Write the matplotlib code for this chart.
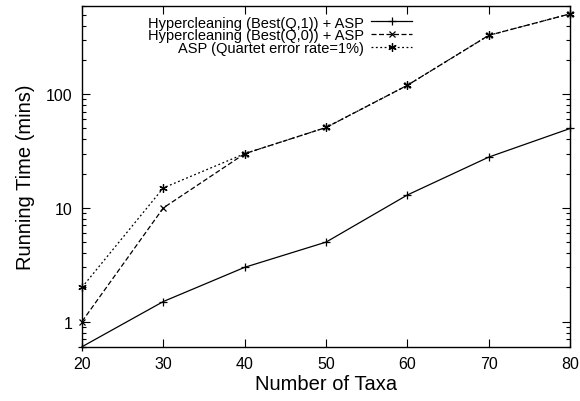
import matplotlib
matplotlib.use('Agg')
import matplotlib.pyplot as plt
from matplotlib.ticker import LogLocator, NullFormatter, FixedLocator

plt.rcParams['font.family'] = ['Liberation Sans', 'DejaVu Sans']

taxa = [20, 30, 40, 50, 60, 70, 80]
hc_q1 = [0.6, 1.5, 3, 5, 13, 28, 50]
hc_q0 = [1, 10, 30, 51, 120, 330, 510]
asp = [2, 15, 30, 51, 120, 330, 510]

labels = ['Hypercleaning (Best(Q,1)) + ASP',
          'Hypercleaning (Best(Q,0)) + ASP',
          'ASP (Quartet error rate=1%)']

fig = plt.figure(figsize=(5.8, 4.02), dpi=100)
ax = fig.add_axes([0.1414, 0.135, 0.8416, 0.848])

ax.plot(taxa, hc_q1, color='black', lw=0.9, ls='-', marker='+', ms=6, mew=0.9, label=labels[0], clip_on=False)
ax.plot(taxa, hc_q0, color='black', lw=0.9, ls=(0, (4, 2)), marker='x', ms=5, mew=0.9, label=labels[1], clip_on=False)
ax.plot(taxa, asp, color='black', lw=0.9, ls=(0, (1.5, 2)), marker=(6, 2, 0), ms=6, mew=0.9, label=labels[2], clip_on=False)

ax.set_yscale('log')
ax.set_xlim(20, 80)
ax.set_ylim(0.6, 600)
ax.set_xticks(taxa)
ax.yaxis.set_major_locator(FixedLocator([1, 10, 100]))
ax.set_yticklabels(['1', '10', '100'])
ax.yaxis.set_minor_locator(LogLocator(base=10, subs=range(2, 10)))
ax.yaxis.set_minor_formatter(NullFormatter())

ax.tick_params(which='both', direction='in', top=True, right=True, labelsize=11.5, width=0.8)
ax.tick_params(which='major', length=6, pad=7)
ax.tick_params(which='minor', length=3)
for s in ax.spines.values():
    s.set_linewidth(1.0)

ax.set_xlabel('Number of Taxa', fontsize=14.5, labelpad=2)
ax.set_ylabel('Running Time (mins)', fontsize=14.5, labelpad=8)

leg = ax.legend(loc='upper left', bbox_to_anchor=(0.108, 1.01), frameon=False, markerfirst=False,
                fontsize=10.5, handlelength=2.8, labelspacing=-0.1, handletextpad=0.5, alignment='right')
for t in leg.get_texts():
    t.set_ha('right')
leg._legend_box.align = 'right'

fig.savefig('out.png', dpi=100)
